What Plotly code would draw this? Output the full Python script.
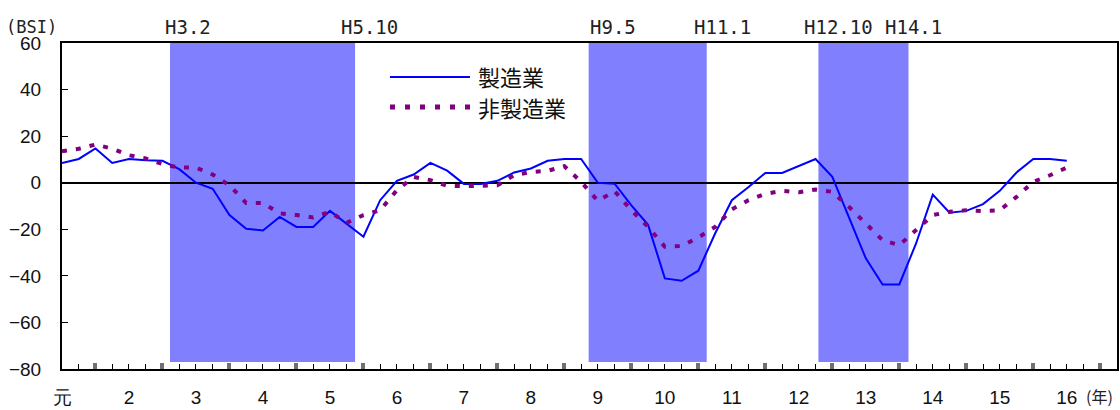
import plotly.graph_objects as go

# quarterly index (0 = first quarter shown, H1)
quarters = list(range(61))

manufacturing = [8.5, 10.2, 14.7, 8.5, 10.2, 9.6, 9.4, 5.8, 0.0, -2.6,
                 -13.9, -19.8, -20.5, -14.7, -19.0, -19.0, -12.1, -17.5, -23.2, -7.5,
                 0.8, 3.5, 8.5, 5.2, -0.5, -0.5, 0.8, 4.4, 6.1, 9.4,
                 10.2, 10.2, 0.0, -0.4, -9.7, -18.1, -41.1, -42.1, -37.8, -21.8,
                 -7.5, -1.8, 4.2, 4.2, 7.1, 10.2, 2.5, -14.7, -32.5, -43.7,
                 -43.7, -26.1, -5.1, -12.9, -12.1, -9.2, -3.5, 4.4, 10.2, 10.2,
                 9.4]

non_manufacturing = [13.5, 14.6, 16.4, 14.6, 11.8, 10.4, 8.0, 6.5, 6.5, 3.5,
                     -1.1, -8.7, -8.7, -13.2, -13.9, -14.9, -12.5, -17.2, -13.9, -11.8,
                     -3.2, 2.5, 1.1, -1.3, -1.5, -1.5, -1.1, 3.2, 4.6, 5.1,
                     7.1, 0.4, -7.8, -3.6, -11.8, -19.0, -27.5, -27.2, -23.5, -19.0,
                     -11.4, -7.5, -4.8, -3.5, -4.1, -2.9, -3.9, -10.4, -17.5, -24.7,
                     -26.8, -20.4, -13.9, -12.5, -11.8, -12.2, -11.8, -6.1, 0.4, 3.2,
                     6.5]

# recession periods (quarter index) and their labels
period_starts = [6.45, 31.45, 45.17]
period_ends = [17.5, 38.5, 50.55]
start_labels = ["H3.2", "H9.5", "H12.10"]
end_labels = ["H5.10", "H11.1", "H14.1"]
start_label_pos = [7.52, 32.9, 46.39]
end_label_pos = [18.39, 39.46, 50.87]

year_labels = ["元", "2", "3", "4", "5", "6", "7", "8", "9", "10",
               "11", "12", "13", "14", "15", "16"]
year_tick_pos = [4 * i for i in range(len(year_labels))]
year_boundary_ticks = [2 + 4 * i for i in range(16)]

series_names = ["製造業", "非製造業"]

BLUE = "#0000FF"
PURPLE = "#800080"
SHADE = "#8080FF"
TICKFONT = "Liberation Sans, Arial, sans-serif"
MONO = "DejaVu Sans Mono, monospace"
CJK = "Noto Sans CJK JP, sans-serif"

fig = go.Figure()

fig.add_trace(go.Scatter(x=quarters, y=manufacturing, mode="lines",
                         line=dict(color=BLUE, width=2), name=series_names[0],
                         showlegend=False))
fig.add_trace(go.Scatter(x=quarters, y=non_manufacturing, mode="lines",
                         line=dict(color=PURPLE, width=4, dash="5px,9px"),
                         name=series_names[1], showlegend=False))
# dummy trace to activate overlay axis for year-boundary ticks
fig.add_trace(go.Scatter(x=[0], y=[None], xaxis="x2", showlegend=False,
                         hoverinfo="skip"))

shapes = []
for s, e in zip(period_starts, period_ends):
    shapes.append(dict(type="rect", xref="x", yref="y", x0=s, x1=e, y0=-77, y1=60,
                       fillcolor=SHADE, line=dict(width=0), layer="below"))

# manual legend
PL, PW, PB, PH = 62, 1055, 369, 326
def px(x):
    return (x - PL) / PW
def py(y):
    return (PB - y) / PH

shapes.append(dict(type="line", xref="paper", yref="paper", x0=px(390), x1=px(470),
                   y0=py(77), y1=py(77), line=dict(color=BLUE, width=2)))
shapes.append(dict(type="line", xref="paper", yref="paper", x0=px(390), x1=px(470),
                   y0=py(107), y1=py(107), line=dict(color=PURPLE, width=5, dash="5px,10px")))

annotations = []
for t, xp in zip(start_labels + end_labels, start_label_pos + end_label_pos):
    annotations.append(dict(text=t, x=xp, xref="x", y=1, yref="paper",
                            yanchor="middle", yshift=16, showarrow=False,
                            font=dict(family=MONO, size=19, color="#222222")))
annotations.append(dict(text="(BSI)", x=px(31), xref="paper", y=py(27), yref="paper",
                        xanchor="center", yanchor="middle", showarrow=False,
                        font=dict(family=MONO, size=17, color="#222222")))
annotations.append(dict(text="(年)", x=px(1099), xref="paper", y=py(396), yref="paper",
                        xanchor="center", yanchor="middle", showarrow=False,
                        font=dict(family=CJK, size=16, color="#222222")))
annotations.append(dict(text=series_names[0], x=px(476), xref="paper", y=py(76), yref="paper",
                        xanchor="left", yanchor="middle", showarrow=False,
                        font=dict(family=CJK, size=22, color="#111111")))
annotations.append(dict(text=series_names[1], x=px(476), xref="paper", y=py(107), yref="paper",
                        xanchor="left", yanchor="middle", showarrow=False,
                        font=dict(family=CJK, size=22, color="#111111")))

ticktext = []
for i in range(64):
    if i in year_tick_pos:
        ticktext.append(year_labels[year_tick_pos.index(i)])
    else:
        ticktext.append("")

fig.update_layout(
    width=1120, height=410,
    margin=dict(l=62, r=3, t=43, b=41),
    paper_bgcolor="white", plot_bgcolor="white",
    shapes=shapes, annotations=annotations,
    showlegend=False,
    xaxis=dict(range=[0, 63], tickmode="array", tickvals=list(range(64)), ticktext=ticktext,
               ticks="inside", ticklen=5, tickwidth=1, tickcolor="black",
               showline=True, linecolor="black", linewidth=2, mirror=True,
               showgrid=False, zeroline=False, ticklabelstandoff=10, automargin=False,
               tickfont=dict(family=TICKFONT, size=19, color="#111111")),
    xaxis2=dict(range=[0, 63], overlaying="x", anchor="y", side="bottom",
                tickmode="array", tickvals=year_boundary_ticks, ticks="inside",
                ticklen=6, tickwidth=4, tickcolor="#707070", showticklabels=False,
                showline=False, showgrid=False, zeroline=False, automargin=False),
    yaxis=dict(range=[-80, 60], dtick=20, ticks="inside", ticklen=6, tickcolor="black",
               showline=True, linecolor="black", linewidth=2, mirror=True,
               showgrid=False, zeroline=True, zerolinecolor="black", zerolinewidth=2,
               ticklabelstandoff=15, automargin=False,
               tickfont=dict(family=TICKFONT, size=19, color="#111111")),
)

fig.write_html("out.html", config={"displayModeBar": False},
               post_script="document.body.style.margin='0';document.body.style.padding='0';")
